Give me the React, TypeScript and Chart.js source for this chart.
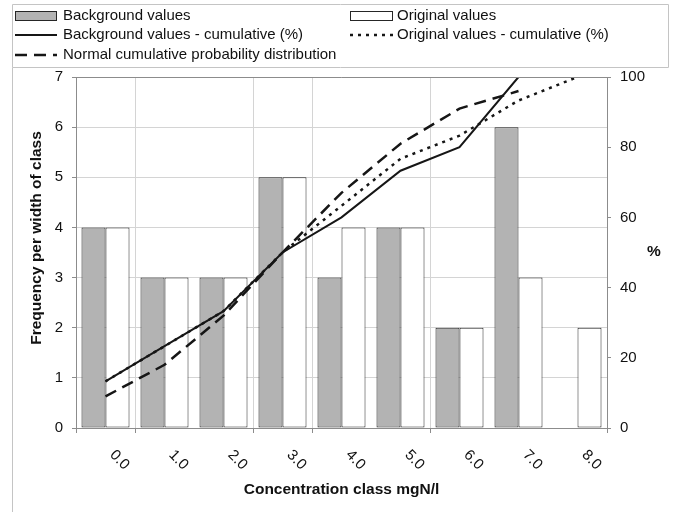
import React, { useEffect, useRef } from 'react';
import { Chart, registerables } from 'chart.js';

Chart.register(...registerables);

// ---- data ----
const categories = ['0.0', '1.0', '2.0', '3.0', '4.0', '5.0', '6.0', '7.0', '8.0'];
const backgroundValues = [4, 3, 3, 5, 3, 4, 2, 6, 0];
const originalValues = [4, 3, 3, 5, 4, 4, 2, 3, 2];
const backgroundCumulative = [13.3, 23.3, 33.3, 50, 60, 73.3, 80, 100, null];
const originalCumulative = [13.3, 23.3, 33.3, 50, 63.3, 76.7, 83.3, 93.3, 100];
const normalCumulative = [9, 18, 32, 50, 67, 81, 91, 96, null];

const leftAxisTitle = 'Frequency per width of class';
const rightAxisTitle = '%';
const xAxisTitle = 'Concentration class mgN/l';

// category boundaries that carry a vertical gridline / tick mark
const gridBoundaries = [1, 3, 4, 6];
const tickBoundaries = [0, 1, 3, 4, 6, 9];

const FONT = "'Liberation Sans', Arial, Helvetica, sans-serif";
const TEXT = '#111111';
const AXIS = '#8c8c8c';
const GRID = '#d4d4d4';

function boundaryPixel(xs: any, b: number) {
  const p0 = xs.getPixelForTick(0);
  const p1 = xs.getPixelForTick(1);
  const w = p1 - p0;
  return p0 - w / 2 + b * w;
}

const decorPlugin = {
  id: 'decor',
  beforeDatasetsDraw(chart: any) {
    const ctx = chart.ctx as CanvasRenderingContext2D;
    const area = chart.chartArea;
    const xs = chart.scales.x;
    ctx.save();
    ctx.strokeStyle = GRID;
    ctx.lineWidth = 1;
    gridBoundaries.forEach((b) => {
      const x = Math.round(boundaryPixel(xs, b)) + 0.5;
      ctx.beginPath();
      ctx.moveTo(x, area.top);
      ctx.lineTo(x, area.bottom);
      ctx.stroke();
    });
    ctx.restore();
  },
  afterDraw(chart: any) {
    const ctx = chart.ctx as CanvasRenderingContext2D;
    const area = chart.chartArea;
    const xs = chart.scales.x;
    ctx.save();

    // outer frame / legend box
    ctx.strokeStyle = '#c4c4c4';
    ctx.lineWidth = 1;
    ctx.beginPath();
    ctx.rect(12.5, 4.5, 656, 63);
    ctx.stroke();
    ctx.beginPath();
    ctx.moveTo(12.5, 67.5);
    ctx.lineTo(12.5, 512);
    ctx.stroke();

    // top border of plot area
    ctx.strokeStyle = AXIS;
    ctx.beginPath();
    ctx.moveTo(area.left, area.top + 0.5);
    ctx.lineTo(area.right, area.top + 0.5);
    ctx.stroke();

    // x tick marks
    tickBoundaries.forEach((b) => {
      const x = Math.round(boundaryPixel(xs, b)) + 0.5;
      ctx.beginPath();
      ctx.moveTo(x, area.bottom);
      ctx.lineTo(x, area.bottom + 5);
      ctx.stroke();
    });

    // legend
    const iconX = [15, 350];
    const iconW = [42, 43];
    const textX = [63, 397];
    const rowY = [16, 35, 55];
    ctx.font = `15px ${FONT}`;
    ctx.textBaseline = 'middle';
    ctx.textAlign = 'left';
    chart.data.datasets.forEach((ds: any, i: number) => {
      const col = i % 2;
      const row = Math.floor(i / 2);
      const x = iconX[col];
      const y = rowY[row];
      const w = iconW[col];
      if (ds.type === 'bar') {
        ctx.fillStyle = ds.backgroundColor;
        ctx.fillRect(x, y - 5, w, 10);
        ctx.strokeStyle = ds.borderColor;
        ctx.lineWidth = 1;
        ctx.setLineDash([]);
        ctx.strokeRect(x + 0.5, y - 4.5, w - 1, 9);
      } else {
        ctx.strokeStyle = ds.borderColor;
        ctx.lineWidth = ds.borderWidth;
        ctx.setLineDash(ds.borderDash || []);
        ctx.beginPath();
        ctx.moveTo(x, y);
        ctx.lineTo(x + w, y);
        ctx.stroke();
        ctx.setLineDash([]);
      }
      ctx.fillStyle = TEXT;
      ctx.fillText(ds.label, textX[col], y);
    });

    // rotated x tick labels
    ctx.font = `15px ${FONT}`;
    ctx.fillStyle = TEXT;
    ctx.textAlign = 'center';
    ctx.textBaseline = 'middle';
    chart.data.labels.forEach((lab: string, i: number) => {
      const px = xs.getPixelForTick(i);
      ctx.save();
      ctx.translate(px + 14, area.bottom + 32);
      ctx.rotate(Math.PI / 4);
      ctx.fillText(lab, 0, 0);
      ctx.restore();
    });

    // axis titles
    ctx.font = `bold 15.5px ${FONT}`;
    ctx.fillStyle = TEXT;
    ctx.textAlign = 'center';
    ctx.textBaseline = 'middle';
    ctx.fillText(xAxisTitle, (area.left + area.right) / 2, 490);
    ctx.save();
    ctx.translate(37, 238);
    ctx.rotate(-Math.PI / 2);
    ctx.fillText(leftAxisTitle, 0, 0);
    ctx.restore();
    ctx.fillText(rightAxisTitle, 654, 252);

    ctx.restore();
  },
};

export default function App() {
  const ref = useRef<HTMLCanvasElement | null>(null);

  useEffect(() => {
    document.body.style.margin = '0';
    const canvas = ref.current;
    if (!canvas) return;
    Chart.defaults.font.family = FONT;
    Chart.defaults.font.size = 15;
    Chart.defaults.color = TEXT;

    const chart = new Chart(canvas, {
      type: 'bar',
      data: {
        labels: categories,
        datasets: [
          {
            type: 'bar',
            label: 'Background values',
            data: backgroundValues,
            backgroundColor: '#b3b3b3',
            borderColor: '#262626',
            borderWidth: 1,
            borderSkipped: false,
            categoryPercentage: 0.814,
            barPercentage: 1.0,
            yAxisID: 'y',
            order: 2,
          } as any,
          {
            type: 'bar',
            label: 'Original values',
            data: originalValues,
            backgroundColor: '#ffffff',
            borderColor: '#262626',
            borderWidth: 1,
            borderSkipped: false,
            categoryPercentage: 0.814,
            barPercentage: 1.0,
            yAxisID: 'y',
            order: 2,
          } as any,
          {
            type: 'line',
            label: 'Background values - cumulative (%)',
            data: backgroundCumulative,
            borderColor: '#161616',
            borderWidth: 2,
            pointRadius: 0,
            tension: 0,
            fill: false,
            yAxisID: 'y1',
            order: 1,
          } as any,
          {
            type: 'line',
            label: 'Original values - cumulative (%)',
            data: originalCumulative,
            borderColor: '#161616',
            borderWidth: 2.5,
            borderDash: [3, 5],
            pointRadius: 0,
            tension: 0,
            fill: false,
            yAxisID: 'y1',
            order: 1,
          } as any,
          {
            type: 'line',
            label: 'Normal cumulative probability distribution',
            data: normalCumulative,
            borderColor: '#161616',
            borderWidth: 2.5,
            borderDash: [12, 7],
            pointRadius: 0,
            tension: 0,
            fill: false,
            yAxisID: 'y1',
            order: 1,
          } as any,
        ],
      },
      options: {
        responsive: false,
        animation: false,
        layout: { padding: { top: 77, left: 0, right: 0, bottom: 0 } },
        plugins: {
          legend: { display: false },
          tooltip: { enabled: false },
        },
        scales: {
          x: {
            type: 'category',
            offset: true,
            grid: { display: false, drawTicks: false },
            border: { display: true, color: AXIS },
            ticks: { display: false },
            afterFit: (s: any) => {
              s.height = 84;
            },
          },
          y: {
            type: 'linear',
            position: 'left',
            min: 0,
            max: 7,
            ticks: { stepSize: 1, padding: 9, color: TEXT, font: { size: 15 } },
            grid: { color: GRID, tickColor: AXIS, tickLength: 4 },
            border: { color: AXIS },
            afterFit: (s: any) => {
              s.width = 76;
            },
          },
          y1: {
            type: 'linear',
            position: 'right',
            min: 0,
            max: 100,
            ticks: { stepSize: 20, padding: 9, color: TEXT, font: { size: 15 } },
            grid: { drawOnChartArea: false, tickColor: AXIS, tickLength: 4 },
            border: { color: AXIS },
            afterFit: (s: any) => {
              s.width = 70;
            },
          },
        },
      } as any,
      plugins: [decorPlugin],
    });

    return () => chart.destroy();
  }, []);

  return (
    <div style={{ position: 'absolute', left: 0, top: 0, width: 677, height: 512, background: '#ffffff' }}>
      <canvas ref={ref} width={677} height={512} style={{ display: 'block', width: 677, height: 512 }} />
    </div>
  );
}
